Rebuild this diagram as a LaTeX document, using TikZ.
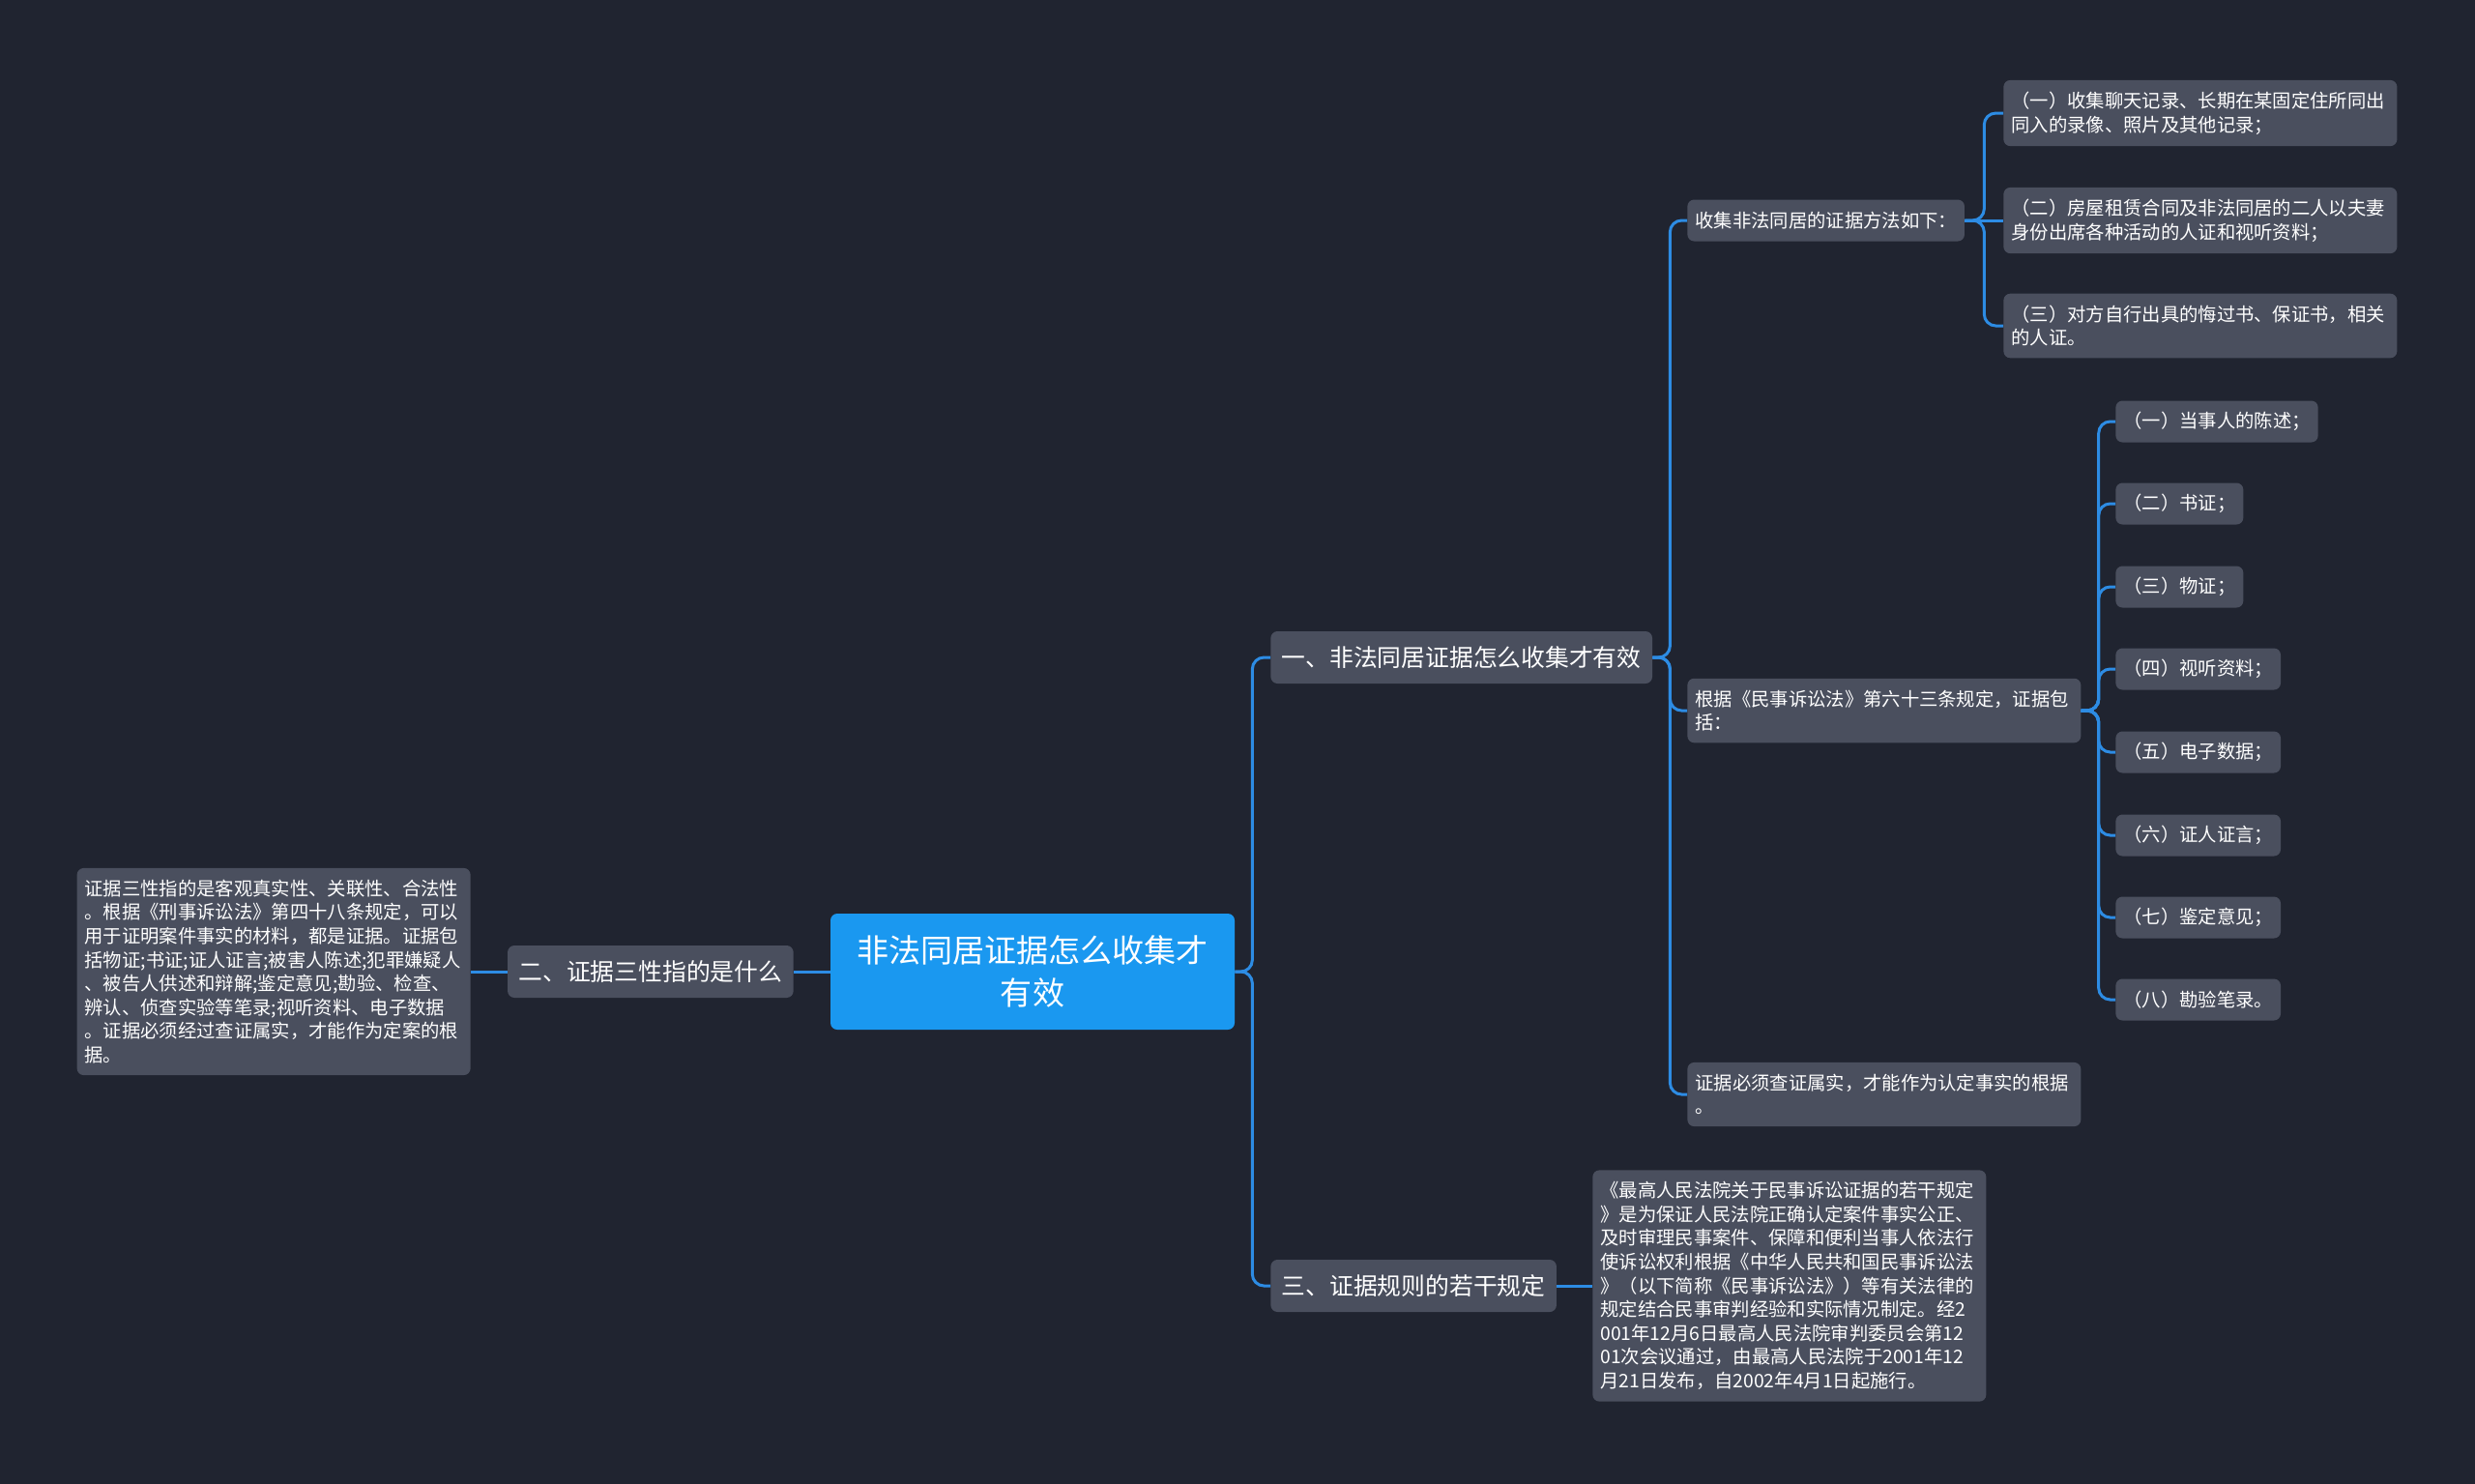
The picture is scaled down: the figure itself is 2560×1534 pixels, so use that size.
\documentclass[tikz,border=0pt]{standalone}
\usepackage{fontspec}
\usepackage{xcolor}
\usepackage{tikz}
\usetikzlibrary{positioning, calc}
\setmainfont{Noto Sans CJK SC}
\definecolor{bgdark}{RGB}{32,36,48}
\definecolor{boxgrey}{RGB}{74,79,94}
\definecolor{linkblue}{RGB}{45,140,228}
\definecolor{rootblue}{RGB}{26,152,240}

\begin{document}
\begin{tikzpicture}[
    x=0.2mm, y=-0.2mm,
    every node/.style={rounded corners=1.4mm, text=white, fill=boxgrey, inner ysep=0pt},
    maintopic/.style={fill=rootblue, minimum width=83.6mm, minimum height=24mm, align=center, font=\fontsize{18.8}{25}\selectfont},
    subtopic/.style={minimum height=10.8mm, inner xsep=2.3mm, font=\fontsize{14.1}{17}\selectfont},
    leaf/.style={minimum height=8.6mm, inner xsep=1.6mm, font=\fontsize{11}{14}\selectfont},
    textbox/.style={leaf, text width=78.2mm, align=left, inner ysep=2.4mm},
    branch/.style={draw=linkblue, line width=0.6mm, rounded corners=2.4mm}
]
    \useasboundingbox (0,0) rectangle (2560,1534);
    \fill[bgdark] (-10,-10) rectangle (2570,1544);

    \node[maintopic] (root) at (1068,1005) {非法同居证据怎么收集才\\有效};

    \node[subtopic, anchor=west] (q1) at (1314,680) {一、非法同居证据怎么收集才有效};
    \node[subtopic, anchor=east] (q2) at (821,1005) {二、证据三性指的是什么};
    \node[subtopic, anchor=west] (q3) at (1314,1330) {三、证据规则的若干规定};

    \node[textbox, anchor=east] (a2) at (487,1005) {证据三性指的是客观真实性、关联性、合法性\\。根据《刑事诉讼法》第四十八条规定，可以\\用于证明案件事实的材料，都是证据。证据包\\括物证;书证;证人证言;被害人陈述;犯罪嫌疑人\\、被告人供述和辩解;鉴定意见;勘验、检查、\\辨认、侦查实验等笔录;视听资料、电子数据\\。证据必须经过查证属实，才能作为定案的根\\据。};

    \node[textbox, anchor=west] (a3) at (1647,1330) {《最高人民法院关于民事诉讼证据的若干规定\\》是为保证人民法院正确认定案件事实公正、\\及时审理民事案件、保障和便利当事人依法行\\使诉讼权利根据《中华人民共和国民事诉讼法\\》（以下简称《民事诉讼法》）等有关法律的\\规定结合民事审判经验和实际情况制定。经2\\001年12月6日最高人民法院审判委员会第12\\01次会议通过，由最高人民法院于2001年12\\月21日发布，自2002年4月1日起施行。};

    \node[leaf, anchor=west] (m1) at (1745,228) {收集非法同居的证据方法如下：};
    \node[textbox, anchor=west] (m2) at (1745,735) {根据《民事诉讼法》第六十三条规定，证据包\\括：};
    \node[textbox, anchor=west] (m3) at (1745,1132) {证据必须查证属实，才能作为认定事实的根据\\。};

    \node[textbox, anchor=west] (m1a) at (2072,117) {（一）收集聊天记录、长期在某固定住所同出\\同入的录像、照片及其他记录；};
    \node[textbox, anchor=west] (m1b) at (2072,228) {（二）房屋租赁合同及非法同居的二人以夫妻\\身份出席各种活动的人证和视听资料；};
    \node[textbox, anchor=west] (m1c) at (2072,337) {（三）对方自行出具的悔过书、保证书，相关\\的人证。};

    \node[leaf, anchor=west] (k1) at (2188,436) {（一）当事人的陈述；};
    \node[leaf, anchor=west] (k2) at (2188,521) {（二）书证；};
    \node[leaf, anchor=west] (k3) at (2188,607) {（三）物证；};
    \node[leaf, anchor=west] (k4) at (2188,692) {（四）视听资料；};
    \node[leaf, anchor=west] (k5) at (2188,778) {（五）电子数据；};
    \node[leaf, anchor=west] (k6) at (2188,864) {（六）证人证言；};
    \node[leaf, anchor=west] (k7) at (2188,949) {（七）鉴定意见；};
    \node[leaf, anchor=west] (k8) at (2188,1034) {（八）勘验笔录。};

    \draw[branch] (root.west) -- (q2.east);
    \draw[branch] (q2.west) -- (a2.east);
    \draw[branch] (root.east) -- ++(18,0) |- (q1.west);
    \draw[branch] (root.east) -- ++(18,0) |- (q3.west);
    \draw[branch] (q3.east) -- (a3.west);
    \draw[branch] (q1.east) -- ++(18,0) |- (m1.west);
    \draw[branch] (q1.east) -- ++(18,0) |- (m2.west);
    \draw[branch] (q1.east) -- ++(18,0) |- (m3.west);
    \draw[branch] (m1.east) -- ++(20,0) |- (m1a.west);
    \draw[branch] (m1.east) -- (m1b.west);
    \draw[branch] (m1.east) -- ++(20,0) |- (m1c.west);
    \foreach \k in {1,...,8}
        \draw[branch] (m2.east) -- ++(18,0) |- (k\k.west);
\end{tikzpicture}
\end{document}
